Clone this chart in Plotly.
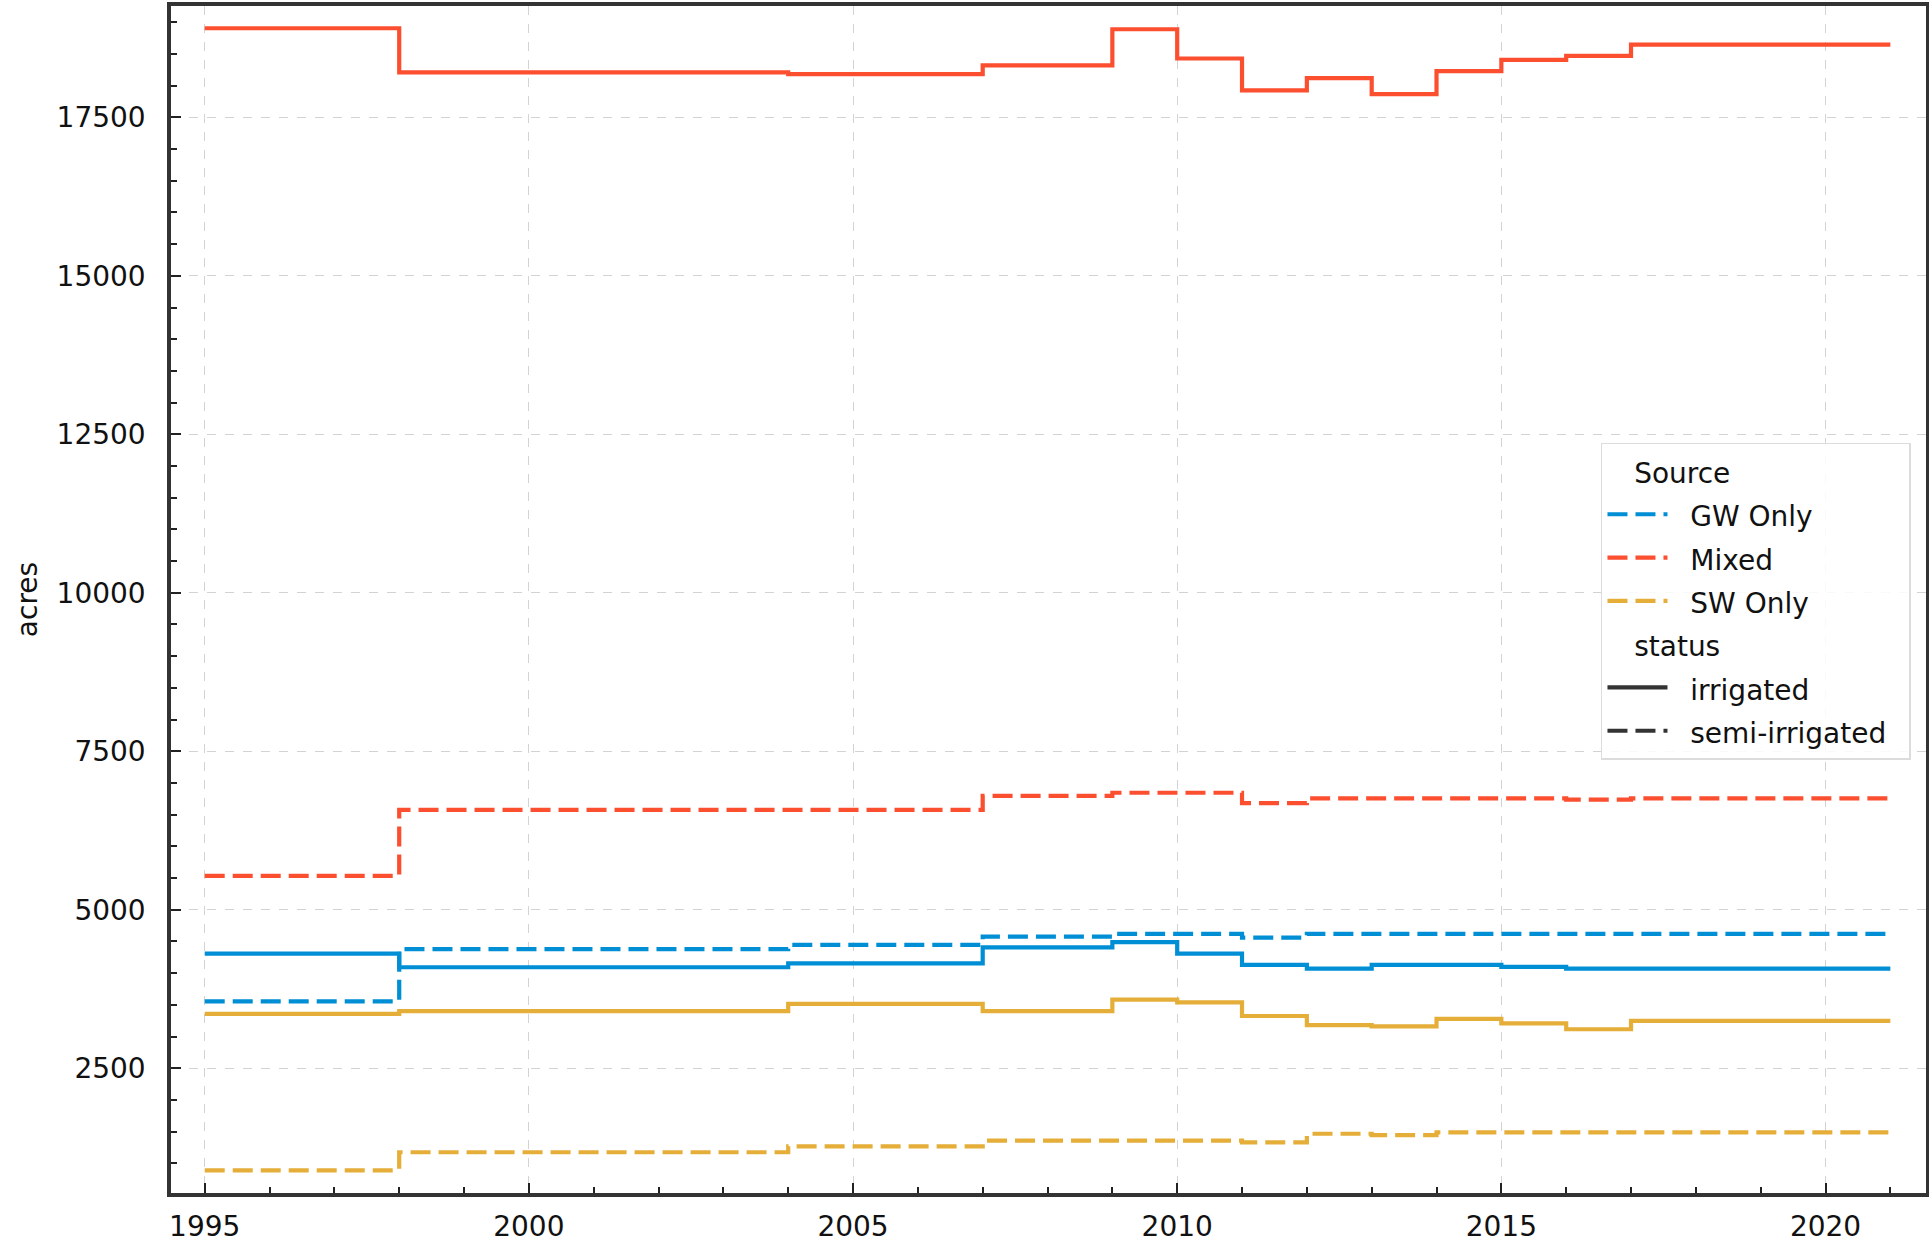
import plotly.graph_objects as go

# ---- data ----
years = [1995, 1998, 2004, 2007, 2009, 2010, 2011, 2012, 2013, 2014, 2015, 2016, 2017, 2021]

mixed_irrigated = [18905, 18208, 18181, 18318, 18889, 18428, 17925, 18118, 17867, 18228, 18407, 18470, 18648, 18648]
mixed_semi = [5533, 6577, 6577, 6797, 6846, 6846, 6681, 6758, 6758, 6758, 6758, 6736, 6758, 6758]
gw_irrigated = [4308, 4093, 4154, 4407, 4489, 4308, 4132, 4071, 4132, 4132, 4099, 4071, 4071, 4071]
gw_semi = [3555, 4379, 4445, 4577, 4621, 4621, 4560, 4621, 4621, 4621, 4621, 4621, 4621, 4621]
sw_irrigated = [3357, 3401, 3516, 3401, 3582, 3538, 3324, 3181, 3159, 3280, 3209, 3115, 3247, 3247]
sw_semi = [889, 1175, 1269, 1357, 1357, 1357, 1329, 1467, 1445, 1489, 1489, 1489, 1489, 1489]

sources = ["GW Only", "Mixed", "SW Only"]
statuses = ["irrigated", "semi-irrigated"]
x_tick_vals = [1995, 2000, 2005, 2010, 2015, 2020]
y_tick_vals = [2500, 5000, 7500, 10000, 12500, 15000, 17500]

# ---- styles ----
COLORS = {"GW Only": "#008fd5", "Mixed": "#fc4f30", "SW Only": "#e5ae38"}
DASH = {"irrigated": "solid", "semi-irrigated": "20px,8px"}
FONT = "DejaVu Sans"
LW = 4.2
NB = "\u00a0"


def ltxt(s, lead=2, trail=2):
    return f"<span style='font-size:28px'>{NB * lead}{s}{NB * trail}</span>"


series = {
    ("GW Only", "irrigated"): gw_irrigated,
    ("GW Only", "semi-irrigated"): gw_semi,
    ("Mixed", "irrigated"): mixed_irrigated,
    ("Mixed", "semi-irrigated"): mixed_semi,
    ("SW Only", "irrigated"): sw_irrigated,
    ("SW Only", "semi-irrigated"): sw_semi,
}

fig = go.Figure()
for (src, st), vals in series.items():
    fig.add_trace(go.Scatter(
        x=years, y=vals, mode="lines", line_shape="hv",
        line=dict(color=COLORS[src], width=LW, dash=DASH[st]),
        showlegend=False, name=f"{src} {st}",
    ))

# legend-only entries
for i, src in enumerate(sources):
    fig.add_trace(go.Scatter(
        x=[None], y=[None], mode="lines", name=ltxt(src),
        line=dict(color=COLORS[src], width=LW, dash="20px,8px"),
        legendgroup="source",
        legendgrouptitle=dict(text=ltxt("Source", 3, 0), font=dict(size=31, family=FONT, color="#111")) if i == 0 else None,
    ))
for i, st in enumerate(statuses):
    fig.add_trace(go.Scatter(
        x=[None], y=[None], mode="lines", name=ltxt(st),
        line=dict(color="#333333", width=LW, dash=DASH[st]),
        legendgroup="status",
        legendgrouptitle=dict(text=ltxt("status", 3, 0), font=dict(size=31, family=FONT, color="#111")) if i == 0 else None,
    ))

axis_common = dict(
    showline=True, linecolor="#333333", linewidth=3.5, mirror=True,
    showgrid=True, gridcolor="#d3d3d3", gridwidth=1, griddash="dash",
    zeroline=False, ticks="inside", tickcolor="#222222", tickwidth=2, ticklen=10,
    tickfont=dict(family=FONT, size=28, color="#111"), tickformat="d",
)

fig.update_xaxes(
    range=[1994.48, 2021.55], tickvals=x_tick_vals,
    minor=dict(ticks="inside", dtick=1, tick0=1995, ticklen=6, tickwidth=1.5, tickcolor="#222222", showgrid=False),
    ticklabelstandoff=6,
    **axis_common,
)
fig.update_yaxes(
    range=[532, 19256], tickvals=y_tick_vals,
    minor=dict(ticks="inside", dtick=500, tick0=0, ticklen=6, tickwidth=1.5, tickcolor="#222222", showgrid=False),
    ticklabelstandoff=16,
    title=dict(text="acres", font=dict(family=FONT, size=28, color="#111"), standoff=12),
    **axis_common,
)

fig.update_layout(
    width=1929, height=1244,
    margin=dict(l=171, r=3, t=6, b=51, autoexpand=False),
    paper_bgcolor="white", plot_bgcolor="white",
    font=dict(family=FONT, size=28, color="#111"),
    legend=dict(
        x=0.8148, y=0.632, xanchor="left", yanchor="top",
        bgcolor="rgba(255,255,255,0.85)", bordercolor="#dcdcdc", borderwidth=1.5,
        font=dict(family=FONT, size=31, color="#111"),
        tracegroupgap=0, itemwidth=60,
    ),
)

fig.write_html(
    "out.html",
    config={"displayModeBar": False},
    post_script="document.body.style.margin='0';document.body.style.padding='0';document.body.style.overflow='hidden';",
)
